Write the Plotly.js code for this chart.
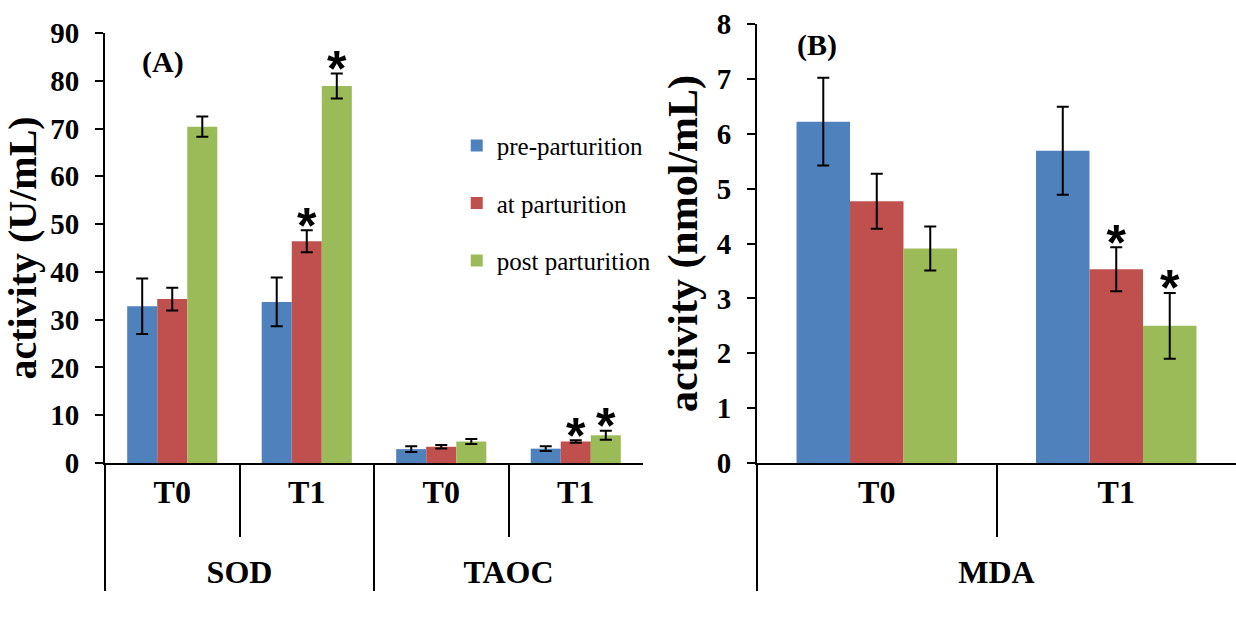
<!DOCTYPE html>
<html>
<head>
<meta charset="utf-8">
<script src="https://cdn.plot.ly/plotly-3.0.1.min.js"></script>
<style>html,body{margin:0;padding:0;background:#fff;}#chart{width:1236px;height:619px;}</style>
</head>
<body>
<div id="chart"></div>
<script>
// ---- data ----
const seriesNames = ['pre-parturition', 'at parturition', 'post parturition'];
const colors = ['#4F81BD', '#C0504D', '#9BBB59'];

// Panel A (SOD, TAOC)
const groupsA = ['SOD', 'SOD', 'TAOC', 'TAOC'];
const timesA = ['T0', 'T1', 'T0', 'T1'];
const preA = [32.8, 33.7, 2.9, 3.0];
const preAErr = [5.8, 5.1, 0.6, 0.5];
const atA = [34.3, 46.4, 3.4, 4.5];
const atAErr = [2.4, 2.3, 0.35, 0.25];
const postA = [70.4, 78.9, 4.5, 5.8];
const postAErr = [2.1, 2.6, 0.5, 0.95];
const sigPreA = [0, 0, 0, 0];
const sigAtA = [0, 1, 0, 1];
const sigPostA = [0, 1, 0, 1];

// Panel B (MDA)
const groupsB = ['MDA', 'MDA'];
const timesB = ['T0', 'T1'];
const preB = [6.22, 5.69];
const preBErr = [0.8, 0.8];
const atB = [4.77, 3.53];
const atBErr = [0.5, 0.4];
const postB = [3.91, 2.5];
const postBErr = [0.4, 0.6];
const sigPreB = [0, 0];
const sigAtB = [0, 1];
const sigPostB = [0, 1];

// ---- build traces ----
const serif = 'Liberation Serif, Times New Roman, serif';
const traces = [];
// leading line break lowers the outer (group) label row, as in the reference
const outer = g => g.map(s => '<br>' + s);
function addPanel(groups, times, vals, errs, sigs, xa, ya, showLegend, tag) {
  const xcats = [outer(groups), times];
  for (let i = 0; i < 3; i++) {
    traces.push({
      type: 'bar', name: seriesNames[i], x: xcats, y: vals[i],
      xaxis: xa, yaxis: ya, legendgroup: 'g' + i, showlegend: showLegend,
      offsetgroup: tag + i, alignmentgroup: tag,
      marker: {color: colors[i], line: {width: 0}},
      error_y: {type: 'data', array: errs[i], visible: true, color: '#000', thickness: 2, width: 6},
      hoverinfo: 'skip'
    });
  }
  for (let i = 0; i < 3; i++) {
    traces.push({
      type: 'scatter', mode: 'text', x: xcats,
      y: vals[i].map((v, k) => sigs[i][k] ? v + errs[i][k] : null),
      text: vals[i].map((v, k) => sigs[i][k] ? '*' : ''),
      textposition: 'middle center',
      textfont: {family: 'Liberation Sans, Arial, sans-serif', size: 50, color: '#000', weight: 'bold'},
      xaxis: xa, yaxis: ya, showlegend: false, hoverinfo: 'skip', cliponaxis: false,
      offsetgroup: tag + i, alignmentgroup: tag
    });
  }
}
addPanel(groupsA, timesA, [preA, atA, postA], [preAErr, atAErr, postAErr], [sigPreA, sigAtA, sigPostA], 'x', 'y', true, 'A');
addPanel(groupsB, timesB, [preB, atB, postB], [preBErr, atBErr, postBErr], [sigPreB, sigAtB, sigPostB], 'x2', 'y2', false, 'B');

const xCommon = {
  type: 'multicategory', showline: true, linecolor: '#000', linewidth: 2,
  ticks: 'outside', tickson: 'boundaries', ticklen: 72, tickwidth: 2, tickcolor: '#000',
  ticklabelstandoff: 0,
  showdividers: true, dividercolor: '#000', dividerwidth: 2,
  tickfont: {family: serif, size: 32, color: '#000', weight: 'bold'},
  showgrid: false, zeroline: false, fixedrange: true
};
const yCommon = {
  showline: true, linecolor: '#000', linewidth: 2, ticks: 'outside', ticklen: 8, tickwidth: 2,
  tickcolor: '#000', showgrid: false, zeroline: false, fixedrange: true,
  tickfont: {family: serif, size: 29, color: '#000', weight: 'bold'},
  ticklabelstandoff: 10
};

const layout = {
  width: 1236, height: 619,
  margin: {l: 105, r: 0, t: 24, b: 156},
  paper_bgcolor: '#fff', plot_bgcolor: '#fff',
  barmode: 'group', bargap: 0.33, bargroupgap: 0,
  scattermode: 'group', scattergap: 0.33,
  showlegend: true,
  legend: {
    x: 0.311, y: 0.775, xanchor: 'left', yanchor: 'top',
    font: {family: serif, size: 25, color: '#000'},
    tracegroupgap: 22, traceorder: 'grouped', bgcolor: 'rgba(0,0,0,0)', itemwidth: 30
  },
  xaxis: Object.assign({}, xCommon, {domain: [0, 0.4757], range: [-0.5, 3.5], anchor: 'y'}),
  yaxis: Object.assign({}, yCommon, {domain: [0, 0.9795], range: [0, 90], dtick: 10, anchor: 'x',
    title: {text: 'activity (U/mL)', standoff: 4, font: {family: serif, size: 40, color: '#000', weight: 'bold'}}}),
  xaxis2: Object.assign({}, xCommon, {domain: [0.5765, 1], range: [-0.5, 1.5], anchor: 'y2'}),
  yaxis2: Object.assign({}, yCommon, {domain: [0, 1], range: [0, 8], dtick: 1, anchor: 'x2',
    title: {text: 'activity (nmol/mL)', standoff: 6, font: {family: serif, size: 42, color: '#000', weight: 'bold'}}}),
  annotations: [
    {text: '(A)', xref: 'paper', yref: 'paper', x: 0.0513, y: 0.913, xanchor: 'center', yanchor: 'middle', showarrow: false,
     font: {family: serif, size: 30, color: '#000', weight: 'bold'}},
    {text: '(B)', xref: 'paper', yref: 'paper', x: 0.6295, y: 0.952, xanchor: 'center', yanchor: 'middle', showarrow: false,
     font: {family: serif, size: 30, color: '#000', weight: 'bold'}}
  ]
};

Plotly.newPlot('chart', traces, layout, {displayModeBar: false, staticPlot: true});
</script>
</body>
</html>
